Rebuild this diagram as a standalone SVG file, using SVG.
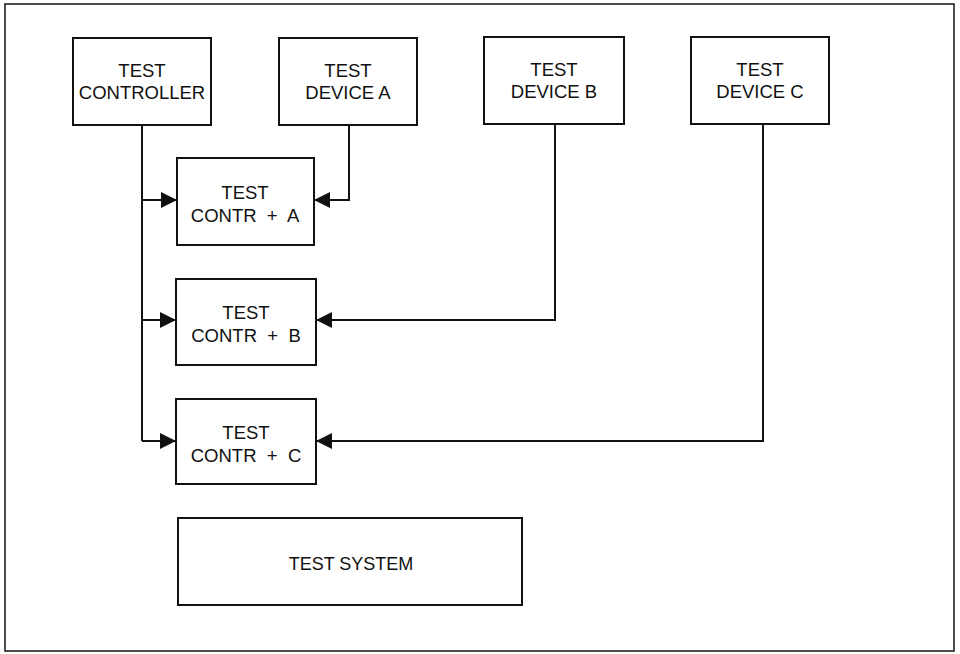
<svg xmlns="http://www.w3.org/2000/svg" width="960" height="654" viewBox="0 0 960 654">
<defs>
<style>
.box{fill:#fff;stroke:#111;stroke-width:2}
.frame{fill:none;stroke:#222;stroke-width:1.6}
.wire{fill:none;stroke:#111;stroke-width:2}
text{font-family:"Liberation Sans",Arial,sans-serif;font-size:18.5px;fill:#111;text-anchor:middle}
</style>
<marker id="arr" viewBox="0 0 16 16" refX="16" refY="8" markerWidth="16" markerHeight="16" markerUnits="userSpaceOnUse" orient="auto">
<path d="M0,0 L16,8 L0,16 Z" fill="#111"/>
</marker>
</defs>
<rect width="960" height="654" fill="#fff"/>
<rect class="frame" x="5" y="4" width="949" height="647"/>
<g id="connectors">
<path class="wire" d="M142,125 V441"/>
<path class="wire" d="M142,200 H177" marker-end="url(#arr)"/>
<path class="wire" d="M142,320 H176" marker-end="url(#arr)"/>
<path class="wire" d="M142,441 H176" marker-end="url(#arr)"/>
<path class="wire" d="M349,125 V200 H314" marker-end="url(#arr)"/>
<path class="wire" d="M555,124 V320 H316" marker-end="url(#arr)"/>
<path class="wire" d="M763,124 V441 H316" marker-end="url(#arr)"/>
</g>
<g id="test-controller">
<rect class="box" x="73" y="38" width="138" height="87"/>
<text x="142" y="77">TEST</text>
<text x="142" y="99">CONTROLLER</text>
</g>
<g id="test-device-a">
<rect class="box" x="279" y="38" width="138" height="87"/>
<text x="348" y="77">TEST</text>
<text x="348" y="99">DEVICE A</text>
</g>
<g id="test-device-b">
<rect class="box" x="484" y="37" width="140" height="87"/>
<text x="554" y="76">TEST</text>
<text x="554" y="98">DEVICE B</text>
</g>
<g id="test-device-c">
<rect class="box" x="691" y="37" width="138" height="87"/>
<text x="760" y="76">TEST</text>
<text x="760" y="98">DEVICE C</text>
</g>
<g id="contr-a">
<rect class="box" x="177" y="158" width="137" height="87"/>
<text x="245" y="199">TEST</text>
<text x="245" y="222" xml:space="preserve">CONTR  +  A</text>
</g>
<g id="contr-b">
<rect class="box" x="176" y="279" width="140" height="86"/>
<text x="246" y="319">TEST</text>
<text x="246" y="342" xml:space="preserve">CONTR  +  B</text>
</g>
<g id="contr-c">
<rect class="box" x="176" y="399" width="140" height="85"/>
<text x="246" y="439">TEST</text>
<text x="246" y="462" xml:space="preserve">CONTR  +  C</text>
</g>
<g id="test-system">
<rect class="box" x="178" y="518" width="344" height="87"/>
<text x="351" y="570" style="font-size:18px">TEST SYSTEM</text>
</g>
</svg>
